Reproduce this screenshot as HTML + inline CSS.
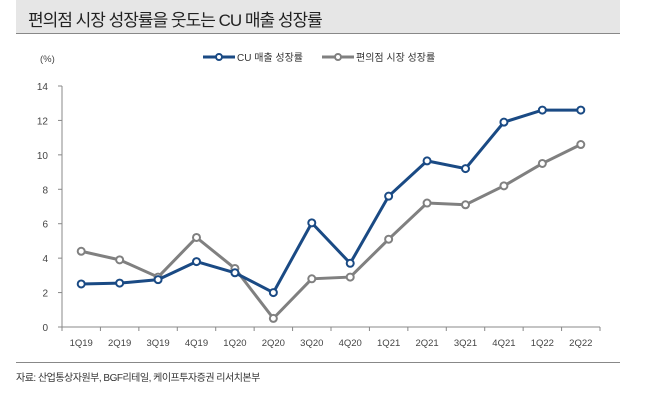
<!DOCTYPE html>
<html><head><meta charset="utf-8"><style>
body{margin:0;width:645px;height:413px;background:#fff;overflow:hidden;font-family:"Liberation Sans","Noto Sans CJK KR",sans-serif}
#title{position:absolute;left:16px;top:0;width:604px;height:33px;background:#e6e6e6;border-bottom:1px solid #888;}
#title span{position:absolute;left:12px;top:6px;font-size:17px;color:#222;letter-spacing:-1px}
#src{position:absolute;left:16px;top:369px;font-size:10px;color:#333;letter-spacing:-0.5px}
#rule{position:absolute;left:16px;top:362px;width:604px;border-top:1px solid #888}
</style></head><body>
<div id="title"><span>편의점 시장 성장률을 웃도는 CU 매출 성장률</span></div>
<svg id="chart" width="645" height="413" style="position:absolute;left:0;top:0"></svg>
<div id="rule"></div>
<div id="src">자료: 산업통상자원부, BGF리테일, 케이프투자증권 리서치본부</div>
<script>
const categories=["1Q19","2Q19","3Q19","4Q19","1Q20","2Q20","3Q20","4Q20","1Q21","2Q21","3Q21","4Q21","1Q22","2Q22"];
const cuGrowth=[2.5,2.55,2.75,3.8,3.15,2.0,6.05,3.7,7.6,9.65,9.2,11.9,12.6,12.6];
const marketGrowth=[4.4,3.9,2.9,5.2,3.4,0.5,2.8,2.9,5.1,7.2,7.1,8.2,9.5,10.6];
const yTicks=[0,2,4,6,8,10,12,14];
const NS="http://www.w3.org/2000/svg";
const svg=document.getElementById("chart");
const x0=62,x1=600,y0=327,y14=86;
const step=(x1-x0)/categories.length;
const xs=i=>x0+step*(i+0.5);
const ys=v=>y0-(v/14)*(y0-y14);
function mk(t,a){const e=document.createElementNS(NS,t);for(const k in a)e.setAttribute(k,a[k]);svg.appendChild(e);return e;}
let e;
e=mk("line",{x1:x0,y1:y14,x2:x0,y2:y0,stroke:"#888","stroke-width":1});


e=mk("line",{x1:x0,y1:y0,x2:x1,y2:y0,stroke:"#888","stroke-width":1});


yTicks.forEach(v=>{
  mk("line",{x1:x0-4,y1:ys(v),x2:x0,y2:ys(v),stroke:"#888"});
  e=mk("text",{x:x0-14,y:ys(v)+4,"text-anchor":"end","font-size":10,fill:"#444"});
  e.textContent=v;
  
  
});
for(let i=0;i<=categories.length;i++)mk("line",{x1:x0+step*i,y1:y0,x2:x0+step*i,y2:y0+4,stroke:"#888"});
categories.forEach((c,i)=>{
  e=mk("text",{x:xs(i),y:y0+19,"text-anchor":"middle","font-size":9.5,fill:"#444"});
  e.textContent=c;
  
  
});
e=mk("text",{x:40,y:62,"font-size":9.5,fill:"#444"});e.textContent="(%)";


function series(data,color,name){
  e=mk("polyline",{points:data.map((v,i)=>xs(i)+","+ys(v)).join(" "),fill:"none",stroke:color,"stroke-width":3});
  
  
  data.forEach((v,i)=>{
    e=mk("circle",{cx:xs(i),cy:ys(v),r:3.5,fill:"#fff",stroke:color,"stroke-width":2});
    
    
  });
}
series(marketGrowth,"#808080","market-growth");
series(cuGrowth,"#1a4a84","cu-growth");
function legend(x,color,label,name){
  mk("line",{x1:x,y1:57,x2:x+32,y2:57,stroke:color,"stroke-width":3});
  mk("circle",{cx:x+16,cy:57,r:3,fill:"#fff",stroke:color,"stroke-width":2});
  e=mk("text",{x:x+34,y:61,"font-size":10,fill:"#333"});e.textContent=label;
  
  
}
legend(203,"#1a4a84","CU 매출 성장률","legend-cu");
legend(322,"#808080","편의점 시장 성장률","legend-market");
</script>
</body></html>
